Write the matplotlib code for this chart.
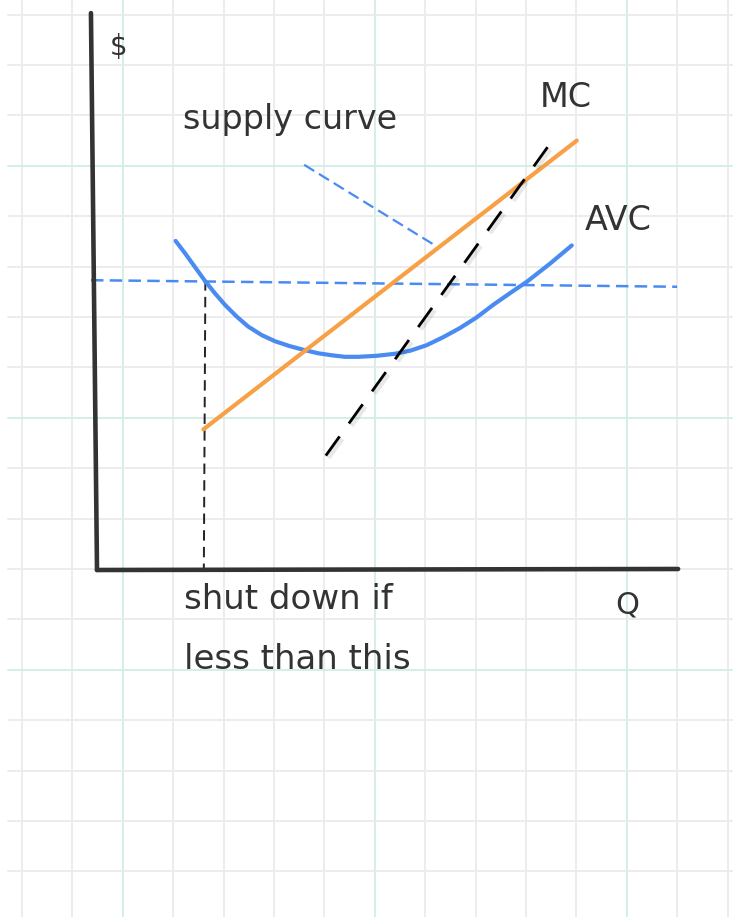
import numpy as np
import matplotlib
matplotlib.use("Agg")
import matplotlib.pyplot as plt
import matplotlib.patheffects as pe

plt.rcParams['lines.scale_dashes'] = False
plt.rcParams['lines.solid_capstyle'] = 'round'
plt.rcParams['lines.dash_capstyle'] = 'butt'

# units: one grid square = 1 on both axes, origin at the axis corner
avc_q    = [1.56, 1.75, 2.14, 2.34, 2.54, 2.77, 3.00, 3.27, 3.53, 3.83, 4.13, 4.39,
            4.66, 4.92, 5.19, 5.55, 5.91, 6.21, 6.54, 6.87, 7.20, 7.53, 7.86, 8.19,
            8.53, 8.99, 9.42]
avc_cost = [6.53, 6.28, 5.74, 5.49, 5.26, 5.03, 4.83, 4.66, 4.54, 4.44, 4.36, 4.30,
            4.26, 4.23, 4.23, 4.25, 4.29, 4.35, 4.46, 4.62, 4.80, 5.01, 5.26, 5.49,
            5.72, 6.08, 6.44]

mc_q    = [2.11, 9.52]
mc_cost = [2.79, 8.52]

supply_q = [4.54, 8.94]
supply_p = [2.27, 8.39]

price_q     = [-0.12, 11.51]
price_level = [5.75, 5.62]

pointer_q = [4.11, 6.74]
pointer_p = [8.04, 6.42]

shutdown_q = [2.15, 2.12]
shutdown_p = [5.75, 0.04]

yaxis_q = [-0.12, 0.0]
yaxis_p = [11.05, 0.0]
xaxis_q = [0.0, 11.53]
xaxis_p = [0.0, 0.02]

labels = {
    '$': (0.26, 10.38, 20),
    'supply curve': (1.71, 8.93, 24),
    'MC': (8.79, 9.37, 24),
    'AVC': (9.68, 6.93, 24),
    'Q': (10.28, -0.70, 22),
    'shut down if': (1.73, -0.58, 24.5),
    'less than this': (1.73, -1.77, 24.5),
}

ink = '#333333'
blue = '#4a8bf2'
orange = '#f7a045'
grid_grey = '#ebebeb'
grid_teal = '#cfeee6'

fig = plt.figure(figsize=(7.33, 9.17), dpi=100)
ax = fig.add_axes([0, 0, 1, 1])
unit = 50.4
ax.set_xlim(-97 / unit, (733 - 97) / unit)
ax.set_ylim((570 - 917) / unit, 570 / unit)
ax.axis('off')

# squared paper background
for k in range(15):
    gx = -1.49 + k
    ax.axvline(gx, color=grid_teal if k % 5 == 2 else grid_grey, lw=1.3, zorder=0)
for k in range(-10, 9):
    gy = 3.02 + k
    ax.plot([-1.77, 13], [gy, gy], color=grid_teal if k % 5 == 0 else grid_grey,
            lw=1.3, zorder=0)

# axes
ax.plot(yaxis_q, yaxis_p, color=ink, lw=3.3, zorder=5)
ax.plot(xaxis_q, xaxis_p, color=ink, lw=3.3, zorder=5)

# price level and shutdown drop line
ax.plot(price_q, price_level, color=blue, lw=1.8, dashes=(9, 4.5), zorder=3)
ax.plot(shutdown_q, shutdown_p, color='#222222', lw=1.4, dashes=(7.5, 4.5), zorder=3)

# cost curves
ax.plot(avc_q, avc_cost, color=blue, lw=3.0, zorder=4, solid_joinstyle='round')
ax.plot(mc_q, mc_cost, color=orange, lw=3.0, zorder=4)

# supply curve (dashed, with a soft shadow) and its pointer
shadow = [pe.SimpleLineShadow(offset=(1.2, -1.2), shadow_color='#000000', alpha=0.09,
                              linewidth=5), pe.Normal()]
ax.plot(supply_q, supply_p, color='black', lw=2.0, dashes=(17, 11.5), zorder=6,
        path_effects=shadow)
ax.plot(pointer_q, pointer_p, color=blue, lw=1.6, dashes=(8.5, 4), zorder=3)

for text, (tx, ty, size) in labels.items():
    ax.text(tx, ty, text, family='DejaVu Sans', fontsize=size, color=ink,
            ha='left', va='center', zorder=7)

fig.savefig('out.png', dpi=100)
